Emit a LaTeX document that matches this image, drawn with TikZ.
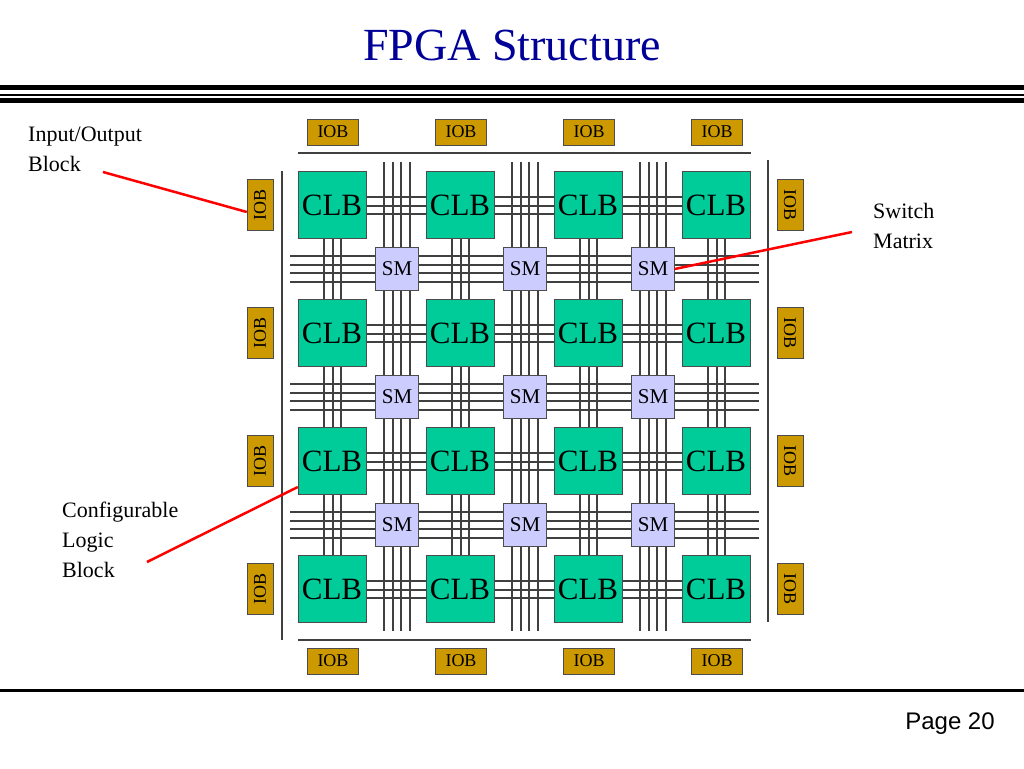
\documentclass[tikz,border=0pt]{standalone}
\usepackage{fontspec}
\setmainfont{Liberation Serif}
\newfontfamily\sans{Liberation Sans}
\begin{document}
\begin{tikzpicture}[x=1pt,y=-1pt,
 clb/.style={draw=black!70,fill=clbc,minimum width=68pt,minimum height=67pt,inner sep=0,font=\fontsize{31}{31}\selectfont},
 sm/.style={draw=black!70,fill=smc,minimum width=43pt,minimum height=43pt,inner sep=0,font=\fontsize{21}{21}\selectfont},
 iob/.style={draw=black!70,fill=iobc,minimum width=51pt,minimum height=26pt,inner sep=0,font=\fontsize{18}{18}\selectfont},
 wire/.style={draw=black!75,line width=1.4pt},
 lbl/.style={align=left,anchor=north west,font=\fontsize{22}{30}\selectfont,inner sep=0},
 ptr/.style={red,line width=2.5pt}]
\definecolor{clbc}{HTML}{00CC99}
\definecolor{smc}{HTML}{CCCCFF}
\definecolor{iobc}{HTML}{CC9900}
\useasboundingbox (0,0) rectangle (1024,768);
\node[font=\fontsize{46}{46}\selectfont,text=blue!60!black] (title) at (512,45) {FPGA Structure};
\fill (0,84.5) rectangle (1024,89.5);
\fill (0,94) rectangle (1024,96);
\fill (0,98) rectangle (1024,103);
\fill (0,689) rectangle (1024,692);
\node[font=\sans\fontsize{24}{24}\selectfont] (page) at (950,724) {Page 20};
% frame lines
\draw[wire] (298,153) -- (751,153);
\draw[wire] (298,640) -- (751,640);
\draw[wire] (282,171) -- (282,640);
\draw[wire] (768,160) -- (768,622);
% long wires
\foreach \j in {0,1,2}{
 \foreach \d in {0,9,17,26}{
  \draw[wire] (384+128*\j+\d,162) -- (384+128*\j+\d,631);
  \draw[wire] (290,256+128*\j+\d) -- (759,256+128*\j+\d);
 }}
% short wires
\foreach \r in {0,1,2,3}{\foreach \c in {0,1,2}{
 \foreach \d in {0,9,17}{
  \draw[wire] (366+128*\c,197+128*\r+\d) -- (426+128*\c,197+128*\r+\d);
  \draw[wire] (324+128*\r+\d,238+128*\c) -- (324+128*\r+\d,299+128*\c);
 }}}
% CLBs
\foreach \r in {0,1,2,3}{\foreach \c in {0,1,2,3}{
 \node[clb] (clb\r\c) at (332+128*\c,205+128*\r) {CLB};}}
\foreach \r in {0,1,2}{\foreach \c in {0,1,2}{
 \node[sm] (sm\r\c) at (397+128*\c,269+128*\r) {SM};}}
\foreach \i in {0,1,2,3}{
 \node[iob] (iobt\i) at (333+128*\i,132) {IOB};
 \node[iob] (iobb\i) at (333+128*\i,661) {IOB};
 \node[iob,rotate=90] (iobl\i) at (260,205+128*\i) {IOB};
 \node[iob,rotate=-90] (iobr\i) at (790,205+128*\i) {IOB};}
\node[lbl] (l1) at (28,127) {Input/Output\\Block};
\node[lbl] (l2) at (873,203) {Switch\\Matrix};
\node[lbl] (l3) at (62,502) {Configurable\\Logic\\Block};
\coordinate (p1) at (103,172); \coordinate (p2) at (852,232); \coordinate (p3) at (147,562);
\draw[ptr] (p1) -- ([yshift=-7pt]iobl0.north);
\draw[ptr] (p2) -- (sm02.east);
\draw[ptr] (p3) -- (clb20.south west |- 0,487) ;
\end{tikzpicture}
\end{document}
